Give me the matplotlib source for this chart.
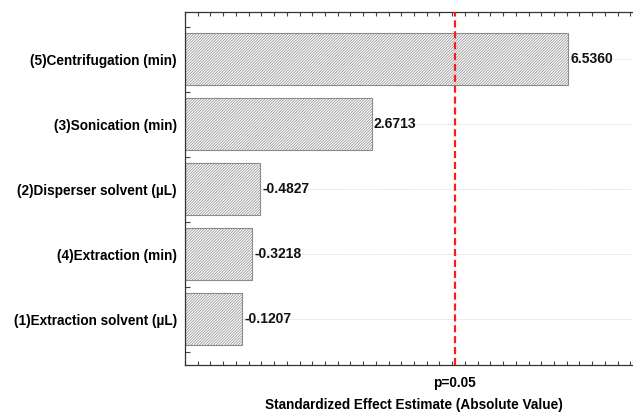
import matplotlib.pyplot as plt
from matplotlib.ticker import MultipleLocator
import numpy as np

plt.rcParams['font.family'] = ['Liberation Sans', 'DejaVu Sans']
plt.rcParams['font.weight'] = 'bold'
plt.rcParams['hatch.color'] = '#b4b4b4'
plt.rcParams['hatch.linewidth'] = 0.5

# factors, bottom to top
factors = ["(1)Extraction solvent (\u00b5L)", "(4)Extraction (min)", "(2)Disperser solvent (\u00b5L)",
           "(3)Sonication (min)", "(5)Centrifugation (min)"]
effects = [-0.1207, -0.3218, -0.4827, 2.6713, 6.5360]
p_limit = 4.303  # t critical, p=0.05
x_min, x_max = -1, 8

fig = plt.figure(figsize=(6.33, 4.12), dpi=100)
ax = fig.add_axes([185/633, 47/412, 458/633, 353/412])

y = np.arange(len(factors))
# bars run from the left edge of the axis
ax.barh(y, np.abs(effects) - x_min, left=x_min, height=0.8, color='#fcfcfc', edgecolor='#8c8c8c',
        hatch='/' * 12, linewidth=0.8, zorder=2)
for yi, v in zip(y, effects):
    ax.text(abs(v) + 0.04, yi, "%.4f" % v, va='center', ha='left', fontsize=10,
            fontweight='bold', color='#111111', zorder=3)

for yi in y:
    ax.axhline(yi, color='#d8d8d8', lw=0.7, ls=(0, (1, 1)), zorder=0)

ax.axvline(p_limit, color='#ff1a1a', lw=1.6, ls=(0, (3.2, 1.7)), zorder=4)

ax.set_xlim(x_min, x_max)
ax.set_ylim(-0.7, 4.73)
ax.set_yticks(y)
ax.set_yticklabels(factors, fontsize=9.8, fontweight='bold')
ax.yaxis.set_minor_locator(MultipleLocator(0.25))
ax.set_xticks([p_limit])
ax.set_xticklabels(["p=0.05"], fontsize=9.8, fontweight='bold')
ax.xaxis.set_minor_locator(MultipleLocator(0.25))

ax.tick_params(axis='x', which='both', direction='in', top=True, length=3, width=0.8, color='#444444')
ax.tick_params(axis='x', which='major', length=0, pad=8)
ax.tick_params(axis='y', which='both', direction='in', length=3.5, width=0.8, color='#444444', pad=6)
for s in ax.spines.values():
    s.set_color('#333333')
    s.set_linewidth(0.9)

ax.set_xlabel("Standardized Effect Estimate (Absolute Value)", fontsize=9.8, fontweight='bold', labelpad=6)

fig.savefig("out.png", dpi=100)
